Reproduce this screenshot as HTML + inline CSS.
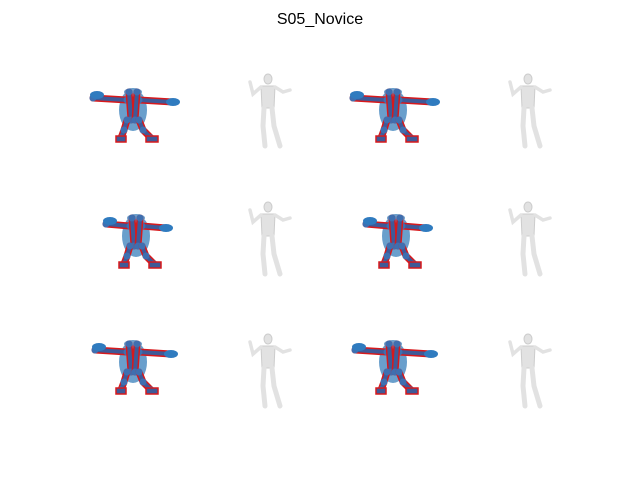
<!DOCTYPE html>
<html><head><meta charset="utf-8"><style>
body{margin:0;background:#fff;}
svg{display:block;font-family:"Liberation Sans","DejaVu Sans",sans-serif;}
</style></head><body>
<svg id="fig" width="640" height="480" viewBox="0 0 640 480">
<text x="320" y="24" text-anchor="middle" font-size="16" fill="#000">S05_Novice</text>
<g id="cells"></g>
</svg>
<script>
const skelCenters=[[133,112],[393,112],[136,238],[396,238],[133,364],[393,364]];
const armSpan=[40,40,30,30,38,38];
const meshCenters=[[268,112],[528,112],[268,240],[528,240],[268,372],[528,372]];
const NS='http://www.w3.org/2000/svg';
const root=document.getElementById('cells');
function mk(t,a,p){const e=document.createElementNS(NS,t);for(const k in a)e.setAttribute(k,a[k]);p.appendChild(e);return e;}
skelCenters.forEach((c,i)=>{
 const g=mk('g',{transform:`translate(${c[0]},${c[1]})`},root);
 
 
 const s=armSpan[i];
 mk('ellipse',{cx:0,cy:-2,rx:14,ry:21,fill:'#6a9fcc'},g);
 mk('ellipse',{cx:0,cy:-20,rx:9,ry:4,fill:'#6a9fcc'},g);
 const red='#d7191c',blue='#3f5a98';
 const limbs=[[[-s,-14],[-6,-12],[6,-12],[s,-10]],[[-4,-20],[-2,8]],[[4,-20],[2,8]],[[-6,8],[-9,18],[-12,26]],[[6,8],[10,18],[18,26]]];
 limbs.forEach(l=>{
  mk('polyline',{points:l.map(p=>p.join(',')).join(' '),fill:'none',stroke:red,'stroke-width':7,'stroke-linejoin':'round','stroke-linecap':'round'},g);
  mk('polyline',{points:l.map(p=>p.join(',')).join(' '),fill:'none',stroke:blue,'stroke-width':4,'stroke-linejoin':'round'},g);
  l.forEach(p=>mk('circle',{cx:p[0],cy:p[1],r:3.5,fill:'#3f6fb0'},g));
 });
 mk('ellipse',{cx:-s+4,cy:-17,rx:7,ry:4,fill:'#2f7bbf'},g);
 mk('ellipse',{cx:s,cy:-10,rx:7,ry:4,fill:'#2f7bbf'},g);
 mk('rect',{x:-17,y:24,width:10,height:6,fill:blue,stroke:red,'stroke-width':1.5},g);
 mk('rect',{x:13,y:24,width:12,height:6,fill:blue,stroke:red,'stroke-width':1.5},g);
});
meshCenters.forEach(c=>{
 const g=mk('g',{transform:`translate(${c[0]},${c[1]})`},root);
 
 
 const f='#e2e2e2',st='#cccccc';
 mk('ellipse',{cx:0,cy:-33,rx:4,ry:5,fill:f,stroke:st},g);
 mk('path',{d:'M-7,-26 L7,-26 L6,-4 L-6,-4 Z',fill:f,stroke:st},g);
 mk('polyline',{points:'-7,-25 -15,-18 -18,-30',fill:'none',stroke:f,'stroke-width':3.5,'stroke-linecap':'round'},g);
 mk('polyline',{points:'7,-25 15,-20 22,-22',fill:'none',stroke:f,'stroke-width':3.5,'stroke-linecap':'round'},g);
 mk('polyline',{points:'-4,-4 -5,14 -3,34',fill:'none',stroke:f,'stroke-width':5,'stroke-linecap':'round'},g);
 mk('polyline',{points:'4,-4 6,14 12,34',fill:'none',stroke:f,'stroke-width':5,'stroke-linecap':'round'},g);
});
</script>
</body></html>
